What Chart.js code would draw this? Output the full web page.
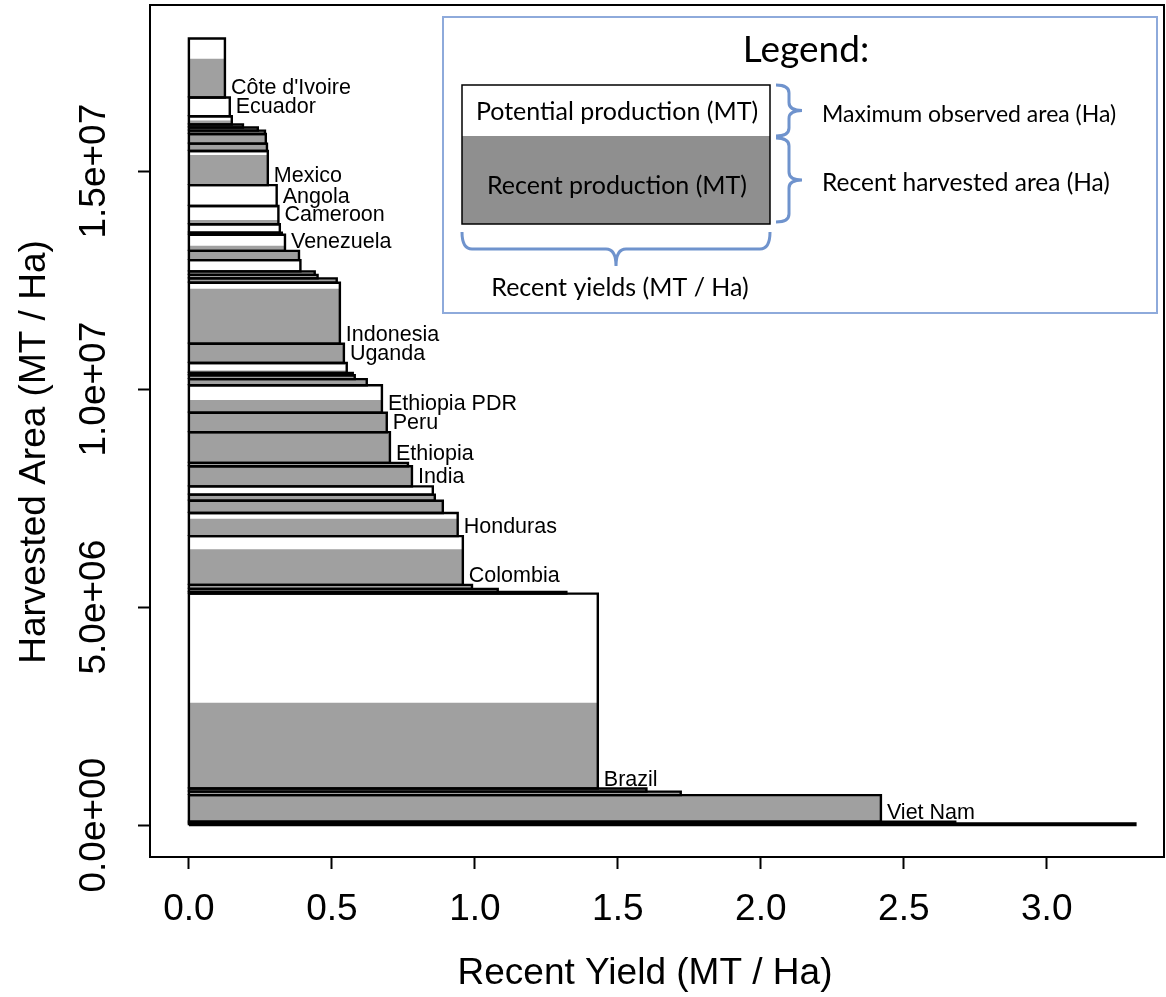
<!DOCTYPE html>
<html>
<head>
<meta charset="utf-8">
<script src="https://cdn.jsdelivr.net/npm/chart.js@4.4.1/dist/chart.umd.min.js"></script>
<style>
  html, body { margin: 0; padding: 0; background: #fff; }
  canvas { display: block; }
</style>
</head>
<body>
<canvas id="chart" width="1166" height="997"></canvas>
<script>
// Countries, stacked from the bottom (highest recent yield) to the top
var countries = ["", "", "Viet Nam", "", "", "Brazil", "", "", "", "Colombia",
  "Honduras", "", "", "", "India", "", "Ethiopia", "Peru", "Ethiopia PDR", "",
  "", "", "", "Uganda", "Indonesia", "", "", "", "", "",
  "Venezuela", "", "", "Cameroon", "Angola", "Mexico", "", "", "", "",
  "", "", "Ecuador", "Côte d'Ivoire"];

// Recent yield (MT / Ha)
var yields = [3.31, 2.68, 2.42, 1.72, 1.60, 1.43, 1.32, 1.08, 0.99, 0.958,
  0.94, 0.888, 0.86, 0.853, 0.78, 0.766, 0.703, 0.692, 0.675, 0.622,
  0.58, 0.573, 0.552, 0.542, 0.528, 0.517, 0.45, 0.44, 0.39, 0.385,
  0.336, 0.325, 0.318, 0.313, 0.307, 0.276, 0.273, 0.269, 0.266, 0.241,
  0.189, 0.15, 0.143, 0.126];

// Maximum observed harvested area (Ha)
var maxArea = [0.04e6, 0.04e6, 0.61e6, 0.08e6, 0.07e6, 4.47e6, 0.04e6, 0.07e6, 0.09e6, 1.12e6,
  0.53e6, 0.28e6, 0.14e6, 0.19e6, 0.46e6, 0.08e6, 0.70e6, 0.45e6, 0.63e6, 0.14e6,
  0.09e6, 0.05e6, 0.23e6, 0.44e6, 1.40e6, 0.10e6, 0.08e6, 0.08e6, 0.26e6, 0.21e6,
  0.37e6, 0.05e6, 0.19e6, 0.42e6, 0.48e6, 0.78e6, 0.17e6, 0.22e6, 0.08e6, 0.07e6,
  0.07e6, 0.19e6, 0.43e6, 1.35e6];

// Recent harvested area (Ha)
var recentArea = [0.04e6, 0.04e6, 0.61e6, 0.08e6, 0.07e6, 1.97e6, 0.04e6, 0.07e6, 0.09e6, 0.82e6,
  0.40e6, 0.28e6, 0.14e6, 0.02e6, 0.46e6, 0.08e6, 0.66e6, 0.45e6, 0.29e6, 0.14e6,
  0.09e6, 0.05e6, 0.06e6, 0.44e6, 1.26e6, 0.10e6, 0.08e6, 0.08e6, 0.02e6, 0.21e6,
  0.12e6, 0.05e6, 0.02e6, 0.10e6, 0.01e6, 0.69e6, 0.17e6, 0.20e6, 0.08e6, 0.07e6,
  0.07e6, 0.09e6, 0.01e6, 0.89e6];

var xTicks = [0, 0.5, 1.0, 1.5, 2.0, 2.5, 3.0];
var yTicks = [0, 5e6, 1e7, 1.5e7];

var FONT = '"Liberation Sans", Arial, Helvetica, sans-serif';
var LEGEND_FONT = 'Lato, "Open Sans", sans-serif';

// stack the rectangles
var bases = [];
var datasets = [];
(function() {
  var b = 0;
  for (var i = 0; i < yields.length; i++) {
    var hi = b + maxArea[i];
    var mid = b + recentArea[i];
    bases.push(b);
    // recent harvested area (gray part)
    datasets.push({
      data: [{x: 0, y: mid}, {x: yields[i], y: mid}],
      fill: {value: b},
      backgroundColor: '#a0a0a0',
      borderColor: 'rgba(0,0,0,0)',
      borderWidth: 1,
      order: 2
    });
    // outline of the maximum observed area
    datasets.push({
      data: [{x: 0, y: b}, {x: yields[i], y: b}, {x: yields[i], y: hi}, {x: 0, y: hi}, {x: 0, y: b}],
      fill: false,
      borderColor: '#000',
      borderWidth: 2.4,
      order: 1
    });
    b = hi;
  }
})();

function sci(v) {
  if (v === 0) return '0.0e+00';
  var e = Math.floor(Math.log10(v) + 1e-9);
  var m = v / Math.pow(10, e);
  return m.toFixed(1) + 'e+' + String(e).padStart(2, '0');
}

var plotBox = {
  id: 'plotBox',
  afterDraw: function(chart) {
    var ctx = chart.ctx, a = chart.chartArea;
    ctx.save();
    ctx.strokeStyle = '#000';
    ctx.lineWidth = 2;
    ctx.strokeRect(a.left, a.top, a.right - a.left, a.bottom - a.top);
    ctx.restore();
  }
};

// rotated y tick labels and the axis titles (R style)
var axisText = {
  id: 'axisText',
  afterDraw: function(chart) {
    var ctx = chart.ctx, y = chart.scales.y, a = chart.chartArea;
    ctx.save();
    ctx.fillStyle = '#000';
    ctx.textAlign = 'center';
    ctx.textBaseline = 'alphabetic';
    ctx.font = '37px ' + FONT;
    yTicks.forEach(function(v) {
      ctx.save();
      ctx.translate(a.left - 45, y.getPixelForValue(v));
      ctx.rotate(-Math.PI / 2);
      ctx.fillText(sci(v), 0, 0);
      ctx.restore();
    });
    ctx.fillText('Recent Yield (MT / Ha)', (a.left + a.right) / 2 - 12, 984);
    ctx.translate(45, (a.top + a.bottom) / 2 + 21);
    ctx.rotate(-Math.PI / 2);
    ctx.fillText('Harvested Area (MT / Ha)', 0, 0);
    ctx.restore();
  }
};

var barLabels = {
  id: 'barLabels',
  afterDatasetsDraw: function(chart) {
    var ctx = chart.ctx, x = chart.scales.x, y = chart.scales.y;
    ctx.save();
    ctx.fillStyle = '#000';
    ctx.font = '21.5px ' + FONT;
    ctx.textAlign = 'left';
    ctx.textBaseline = 'alphabetic';
    countries.forEach(function(name, i) {
      if (!name) return;
      ctx.fillText(name, x.getPixelForValue(yields[i]) + 6, y.getPixelForValue(bases[i]) - 3);
    });
    ctx.restore();
  }
};

function braceV(ctx, x, y1, y2, w) {
  var m = (y1 + y2) / 2, s = x + w / 2, r = 8;
  ctx.beginPath();
  ctx.moveTo(x, y1);
  ctx.quadraticCurveTo(s, y1, s, y1 + r);
  ctx.lineTo(s, m - r);
  ctx.quadraticCurveTo(s, m, x + w, m);
  ctx.quadraticCurveTo(s, m, s, m + r);
  ctx.lineTo(s, y2 - r);
  ctx.quadraticCurveTo(s, y2, x, y2);
  ctx.stroke();
}

function braceH(ctx, x1, x2, y, h) {
  var m = (x1 + x2) / 2, s = y + h / 2, r = 10;
  ctx.beginPath();
  ctx.moveTo(x1, y);
  ctx.quadraticCurveTo(x1, s, x1 + r, s);
  ctx.lineTo(m - r, s);
  ctx.quadraticCurveTo(m, s, m, y + h);
  ctx.quadraticCurveTo(m, s, m + r, s);
  ctx.lineTo(x2 - r, s);
  ctx.quadraticCurveTo(x2, s, x2, y);
  ctx.stroke();
}

var legendBox = {
  id: 'legendBox',
  afterDraw: function(chart) {
    var ctx = chart.ctx;
    ctx.save();
    ctx.fillStyle = '#fff';
    ctx.fillRect(443, 17, 714, 296);
    ctx.strokeStyle = '#8eaadb';
    ctx.lineWidth = 2;
    ctx.strokeRect(443, 17, 714, 296);

    ctx.fillStyle = '#000';
    ctx.font = '37px ' + LEGEND_FONT;
    ctx.textAlign = 'center';
    ctx.textBaseline = 'middle';
    ctx.fillText('Legend:', 806, 50);

    ctx.fillStyle = '#8f8f8f';
    ctx.fillRect(462, 136, 308, 88);
    ctx.strokeStyle = '#000';
    ctx.lineWidth = 1.5;
    ctx.strokeRect(462, 85, 308, 139);

    ctx.fillStyle = '#000';
    ctx.font = '25px ' + LEGEND_FONT;
    ctx.fillText('Potential production (MT)', 617, 112);
    ctx.fillText('Recent production (MT)', 617, 186);
    ctx.fillText('Recent yields (MT / Ha)', 620, 288);
    ctx.textAlign = 'left';
    ctx.font = '23px ' + LEGEND_FONT;
    ctx.fillText('Maximum observed area (Ha)', 822, 115);
    ctx.font = '24.5px ' + LEGEND_FONT;
    ctx.fillText('Recent harvested area (Ha)', 822, 183);

    ctx.strokeStyle = '#6f93cd';
    ctx.lineWidth = 3;
    braceV(ctx, 776, 85, 136, 26);
    braceV(ctx, 776, 138, 222, 26);
    braceH(ctx, 462, 770, 232, 34);
    ctx.restore();
  }
};

new Chart(document.getElementById('chart'), {
  type: 'scatter',
  data: { datasets: datasets },
  options: {
    responsive: false,
    animation: false,
    events: [],
    showLine: true,
    layout: { padding: { top: 5, right: 2, left: 0, bottom: 0 } },
    elements: {
      point: { radius: 0, hoverRadius: 0 },
      line: { tension: 0 }
    },
    plugins: {
      legend: { display: false },
      tooltip: { enabled: false }
    },
    scales: {
      x: {
        type: 'linear',
        min: -0.136,
        max: 3.41,
        afterBuildTicks: function(s) { s.ticks = xTicks.map(function(v) { return {value: v}; }); },
        afterFit: function(s) { s.height = 140; },
        grid: { drawOnChartArea: false, drawTicks: true, tickLength: 12, tickWidth: 2, tickColor: '#000' },
        border: { display: false },
        ticks: {
          color: '#000', font: { family: FONT, size: 37 }, padding: 19,
          maxRotation: 0, autoSkip: false,
          callback: function(v) { return v.toFixed(1); }
        }
      },
      y: {
        type: 'linear',
        min: -0.73e6,
        max: 18.81e6,
        afterBuildTicks: function(s) { s.ticks = yTicks.map(function(v) { return {value: v}; }); },
        afterFit: function(s) { s.width = 150; },
        grid: { drawOnChartArea: false, drawTicks: true, tickLength: 12, tickWidth: 2, tickColor: '#000' },
        border: { display: false },
        ticks: { display: false }
      }
    }
  },
  plugins: [barLabels, plotBox, axisText, legendBox]
});
</script>
</body>
</html>
